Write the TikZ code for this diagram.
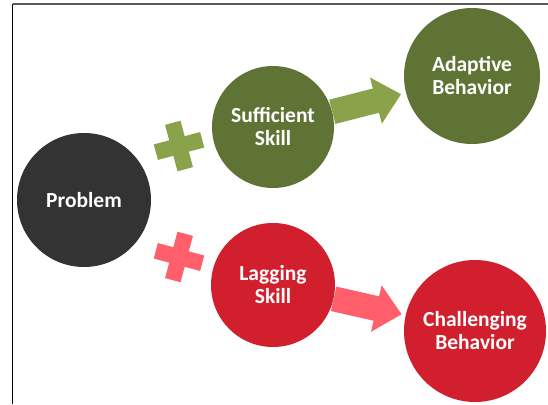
\documentclass[tikz,border=0pt]{standalone}
\usepackage{fontspec}
\setmainfont{Carlito}
\usepackage{tikz}
\usetikzlibrary{arrows.meta}

\definecolor{darkbg}{HTML}{333333}
\definecolor{olive}{HTML}{5F7434}
\definecolor{lightolive}{HTML}{8AA24A}
\definecolor{deepred}{HTML}{D11F2D}
\definecolor{pinkred}{HTML}{FF5F6B}

\begin{document}
\begin{tikzpicture}[x=1pt,y=1pt,
  blob/.style={circle, inner sep=0pt, text=white, font=\bfseries\fontsize{21.5}{23}\selectfont, align=center},
  plusbar/.style={rectangle, inner sep=0pt, minimum width=48pt, minimum height=16pt},
  fatarrow/.style={line width=25pt, -{Triangle[length=26pt, width=46pt]}}
]
  \useasboundingbox (0,0) rectangle (548,404);
  % frame
  \draw[line width=1.5pt, black!65] (12.5,400) -- (548,400);
  \draw[line width=1pt, black] (12.5,400) -- (12.5,0);

  \node[blob, fill=darkbg, minimum size=134pt] (prob) at (84,204) {Problem};
  \node[blob, fill=olive, minimum size=122pt] (suff) at (273,277) {Sufficient\\Skill};
  \node[blob, fill=olive, minimum size=136pt] (adapt) at (472,328) {Adaptive\\Behavior};
  \node[blob, fill=deepred, minimum size=124pt] (lag) at (273,119) {Lagging\\Skill};
  \node[blob, fill=deepred, minimum size=142pt] (chal) at (475,73) {Challenging\\Behavior};

  % plus signs
  \node[plusbar, fill=lightolive, rotate=15] (gplus) at (179,258) {};
  \node[plusbar, fill=lightolive, rotate=105] (gplusv) at (gplus) {};
  \node[plusbar, fill=pinkred, rotate=-15] (rplus) at (179,147) {};
  \node[plusbar, fill=pinkred, rotate=75] (rplusv) at (rplus) {};

  % arrows
  \draw[fatarrow, lightolive, shorten >=5pt] (suff) -- (adapt);
  \draw[fatarrow, pinkred, shorten >=4pt] (lag) -- (chal);
\end{tikzpicture}
\end{document}
